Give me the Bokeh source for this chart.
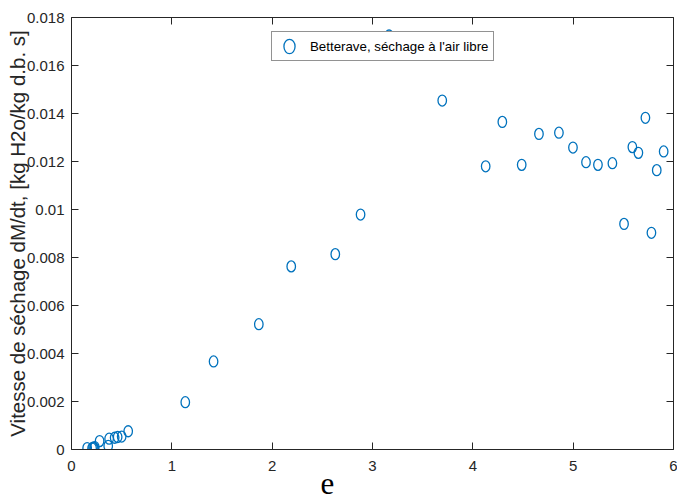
from bokeh.plotting import figure
from bokeh.models import (LinearAxis, FixedTicker, Range1d, Legend, LegendItem,
                          ColumnDataSource, Title)
from bokeh.embed import file_html
from bokeh.resources import INLINE

# ---- data ----
e_vals = [0.156, 0.205, 0.215, 0.225, 0.232, 0.28, 0.366, 0.375, 0.43, 0.46, 0.50, 0.565,
          1.134, 1.416, 1.867, 2.190, 2.629, 2.881, 3.165, 3.695, 4.128, 4.294, 4.487, 4.659,
          4.858, 4.998, 5.128, 5.247, 5.391, 5.507, 5.590, 5.650, 5.720, 5.780, 5.833, 5.902]
rate = [0.00006, 0.00005, 0.00008, 0.00006, 0.00010, 0.00035, 0.00015, 0.00045, 0.00049,
        0.00052, 0.00054, 0.00076, 0.00197, 0.00367, 0.00522, 0.00763, 0.00814, 0.00979,
        0.01725, 0.01454, 0.01180, 0.01365, 0.01186, 0.01315, 0.01320, 0.01258, 0.01197,
        0.01186, 0.01193, 0.00940, 0.01260, 0.01236, 0.01382, 0.00903, 0.01164, 0.01242]

x_ticks = [0, 1, 2, 3, 4, 5, 6]
x_tick_labels = ["0", "1", "2", "3", "4", "5", "6"]
y_ticks = [0, 0.002, 0.004, 0.006, 0.008, 0.01, 0.012, 0.014, 0.016, 0.018]
y_tick_labels = ["0", "0.002", "0.004", "0.006", "0.008", "0.01", "0.012", "0.014", "0.016", "0.018"]

series_name = "Betterave, séchage à l'air libre"
x_title = "e"
y_title = "Vitesse de séchage dM/dt, [kg H2o/kg d.b. s]"

BLUE = "#0072BD"
AX = "#262626"
SANS = "Liberation Sans"

p = figure(width=677, height=500, output_backend="svg", toolbar_location=None,
           x_range=Range1d(0, 6), y_range=Range1d(0, 0.018),
           min_border_left=71, min_border_right=4, min_border_top=17, min_border_bottom=51,
           x_axis_location=None, y_axis_location=None)
p.xgrid.visible = False
p.ygrid.visible = False
p.outline_line_color = None
p.background_fill_color = "white"
p.border_fill_color = "white"


def style_axis(ax, ticks, labels, show_labels=True):
    ax.ticker = FixedTicker(ticks=ticks)
    ax.axis_line_color = AX
    ax.axis_line_width = 1
    ax.major_tick_line_color = AX
    ax.major_tick_in = 7
    ax.major_tick_out = 0
    ax.minor_tick_line_color = None
    ax.major_label_text_color = AX
    ax.major_label_text_font = SANS
    if show_labels:
        ax.major_label_overrides = {t: l for t, l in zip(ticks, labels)}
        ax.major_label_text_font_size = "15px"
    else:
        ax.major_label_overrides = {t: "" for t in ticks}
        ax.major_label_text_font_size = "1px"
        ax.major_label_standoff = 0


xb = LinearAxis()
style_axis(xb, x_ticks, x_tick_labels)
xb.major_label_standoff = 11
p.add_layout(xb, "below")

yl = LinearAxis()
style_axis(yl, y_ticks, y_tick_labels)
yl.major_label_standoff = 7
yl.axis_label = y_title
yl.axis_label_text_font = SANS
yl.axis_label_text_font_style = "normal"
yl.axis_label_text_font_size = "20.5px"
yl.axis_label_text_color = AX
yl.axis_label_standoff = -5
p.add_layout(yl, "left")

xt = LinearAxis()
style_axis(xt, x_ticks, x_tick_labels, show_labels=False)
p.add_layout(xt, "above")

yr = LinearAxis()
style_axis(yr, y_ticks, y_tick_labels, show_labels=False)
p.add_layout(yr, "right")

# x title: serif "e", placed left of centre as in the reference
xtitle = Title(text=x_title, align="left", offset=249, vertical_align="bottom", standoff=-41,
               text_font="Liberation Serif", text_font_style="normal",
               text_font_size="31px", text_color="black")
p.add_layout(xtitle, "below")

src = ColumnDataSource(dict(x=e_vals, y=rate))
r = p.ellipse(x="x", y="y", width=8.5, height=11, width_units="screen", height_units="screen",
              source=src, fill_color=None, line_color=BLUE, line_width=1.3)

legend = Legend(items=[LegendItem(label=series_name, renderers=[r])],
                location=(200, 388), orientation="vertical")
legend.label_text_font = SANS
legend.label_text_font_size = "13.3px"
legend.label_text_color = "black"
legend.border_line_color = AX
legend.border_line_width = 1
legend.background_fill_color = "white"
legend.background_fill_alpha = 1
legend.padding = 5
legend.margin = 0
legend.spacing = 0
legend.glyph_width = 24
legend.glyph_height = 18
legend.label_standoff = 9
legend.label_height = 18
p.add_layout(legend, "center")

open("out.html", "w").write(file_html(p, INLINE))
